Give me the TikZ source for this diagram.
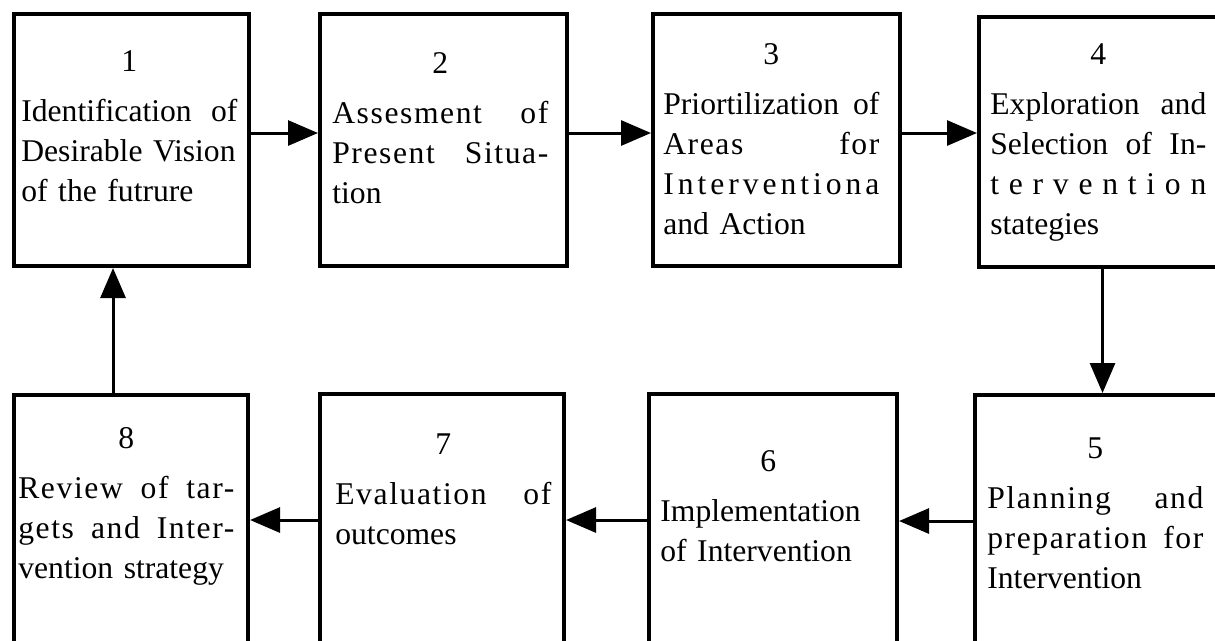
\documentclass[tikz,border=0pt]{standalone}
\usepackage{fontspec}
\setmainfont{Liberation Serif}
\usetikzlibrary{arrows.meta,positioning}

\newcommand{\jline}[1]{\makebox[\linewidth][s]{\spaceskip=0pt\xspaceskip=0pt #1}}
\newcommand{\sline}[1]{\jline{\addfontfeature{LetterSpace=5}#1}}
\newcommand{\stagenum}[1]{\makebox[\linewidth]{#1}}

\begin{document}
\begin{tikzpicture}[
    stage/.style={draw, line width=2.3pt, anchor=north west,
        minimum width=4.94cm, minimum height=5.04cm, inner sep=0pt},
    stagetext/.style={anchor=north west, text width=4.32cm, align=left,
        inner sep=0pt, font=\fontsize{18}{22.8}\selectfont},
    flow/.style={line width=1.7pt, -{Triangle[length=0.6cm, width=0.5cm]}}
]
    \useasboundingbox (0,0) rectangle (24.3,-12.82);
    \clip (0,0) rectangle (24.3,-12.82);

    % top row
    \node[stage, minimum width=4.7cm] (s1) at (0.24,-0.24) {};
    \node[stage] (s2) at (6.36,-0.24) {};
    \node[stage] (s3) at (13.02,-0.24) {};
    \node[stage, minimum height=5.0cm] (s4) at (19.54,-0.30) {};

    % bottom row
    \node[stage] (s5) at (19.46,-7.86) {};
    \node[stage, minimum width=4.96cm] (s6) at (12.94,-7.84) {};
    \node[stage, minimum width=4.88cm] (s7) at (6.36,-7.84) {};
    \node[stage, minimum width=4.68cm] (s8) at (0.24,-7.86) {};

    % texts
    \node[stagetext, below right=0.76cm and 0.18cm of s1.north west] (t1)
        {\stagenum{1}\\[0.2cm] \jline{Identification of}\\ Desirable Vision\\ of the futrure};
    \node[stagetext, below right=0.8cm and 0.28cm of s2.north west] (t2)
        {\stagenum{2}\\[0.2cm] \sline{Assesment of}\\ \sline{Present Situa-}\\ tion};
    \node[stagetext, below right=0.62cm and 0.24cm of s3.north west] (t3)
        {\stagenum{3}\\[0.2cm] \jline{Priortilization of}\\ \sline{Areas for}\\
         \jline{I\hfill n\hfill t\hfill e\hfill r\hfill v\hfill e\hfill n\hfill t\hfill i\hfill o\hfill n\hfill a}\\ and Action};
    \node[stagetext, below right=0.56cm and 0.26cm of s4.north west] (t4)
        {\stagenum{4}\\[0.2cm] \jline{Exploration and}\\ \jline{Selection of In-}\\
         \jline{t\hfill e\hfill r\hfill v\hfill e\hfill n\hfill t\hfill i\hfill o\hfill n}\\ stategies};
    \node[stagetext, below right=0.88cm and 0.28cm of s5.north west] (t5)
        {\stagenum{5}\\[0.2cm] \sline{Planning and}\\ \sline{preparation for}\\ Intervention};
    \node[stagetext, below right=1.16cm and 0.26cm of s6.north west] (t6)
        {\stagenum{6}\\[0.2cm] Implementation\\ of Intervention};
    \node[stagetext, below right=0.82cm and 0.34cm of s7.north west] (t7)
        {\stagenum{7}\\[0.2cm] \sline{Evaluation of}\\ outcomes};
    \node[stagetext, below right=0.68cm and 0.12cm of s8.north west] (t8)
        {\stagenum{8}\\[0.2cm] \sline{Review of tar-}\\ \sline{gets and Inter-}\\ vention strategy};

    % connectors
    \draw[flow] ([yshift=0.14cm]s1.east) -- ([yshift=0.14cm]s1.east -| s2.west);
    \draw[flow] ([yshift=0.14cm]s2.east) -- ([yshift=0.14cm]s2.east -| s3.west);
    \draw[flow] ([yshift=0.14cm]s3.east) -- ([yshift=0.14cm]s3.east -| s4.west);
    \draw[flow] (s4.south) -- (s4.south |- s5.north);
    \draw[flow] (s5.west) -- (s5.west -| s6.east);
    \draw[flow] (s6.west) -- (s6.west -| s7.east);
    \draw[flow] (s7.west) -- (s7.west -| s8.east);
    \draw[flow] ([xshift=-0.36cm]s8.north) -- ([xshift=-0.36cm]s8.north |- s1.south);
\end{tikzpicture}
\end{document}
